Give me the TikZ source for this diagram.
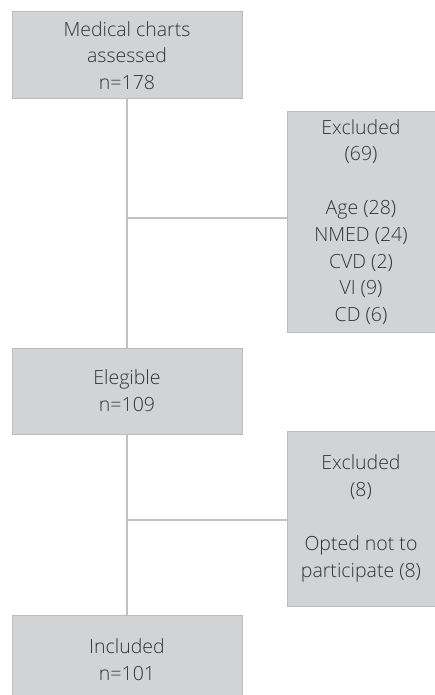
\documentclass[tikz,border=0pt]{standalone}
\usepackage{fontspec}
\setmainfont{Open Sans}[UprightFont=* Light]
\definecolor{boxfill}{HTML}{D2D3D5}
\definecolor{boxline}{HTML}{BCBDBF}
\definecolor{conn}{HTML}{C2C2C2}
\definecolor{txt}{HTML}{333333}
\begin{document}
\begin{tikzpicture}[x=1pt,y=-1pt,
  box/.style={draw=boxline, fill=boxfill, line width=1pt, inner sep=0pt, align=center,
    text=txt, font=\fontsize{19.5}{26.8}\selectfont},
  link/.style={draw=conn, line width=1.3pt}]
\useasboundingbox (0,0) rectangle (435,695);
\clip (0,0) rectangle (435,695);
\node[box, minimum width=230pt, minimum height=87pt] (a) at (127,55.5) {Medical charts\\assessed\\n=178};
\node[box, minimum width=148pt, minimum height=220pt] (e1) at (361,222) {Excluded\\(69)\\[26.8pt]Age (28)\\NMED (24)\\CVD (2)\\VI (9)\\CD (6)};
\node[box, minimum width=230pt, minimum height=86pt] (b) at (127,391) {Elegible\\n=109};
\node[box, minimum width=148pt, minimum height=175pt] (e2) at (361,518.5) {Excluded\\(8)\\[26.8pt]Opted not to\\participate (8)};
\node[box, minimum width=230pt, minimum height=90pt] (c) at (127,660) {Included\\n=101};
\coordinate (j1) at (127,218);
\coordinate (j2) at (127,520);
\draw[link] (a.south) -- (b.north);
\draw[link] (j1) -- (j1 -| e1.west);
\draw[link] (b.south) -- (c.north);
\draw[link] (j2) -- (j2 -| e2.west);
\end{tikzpicture}
\end{document}
